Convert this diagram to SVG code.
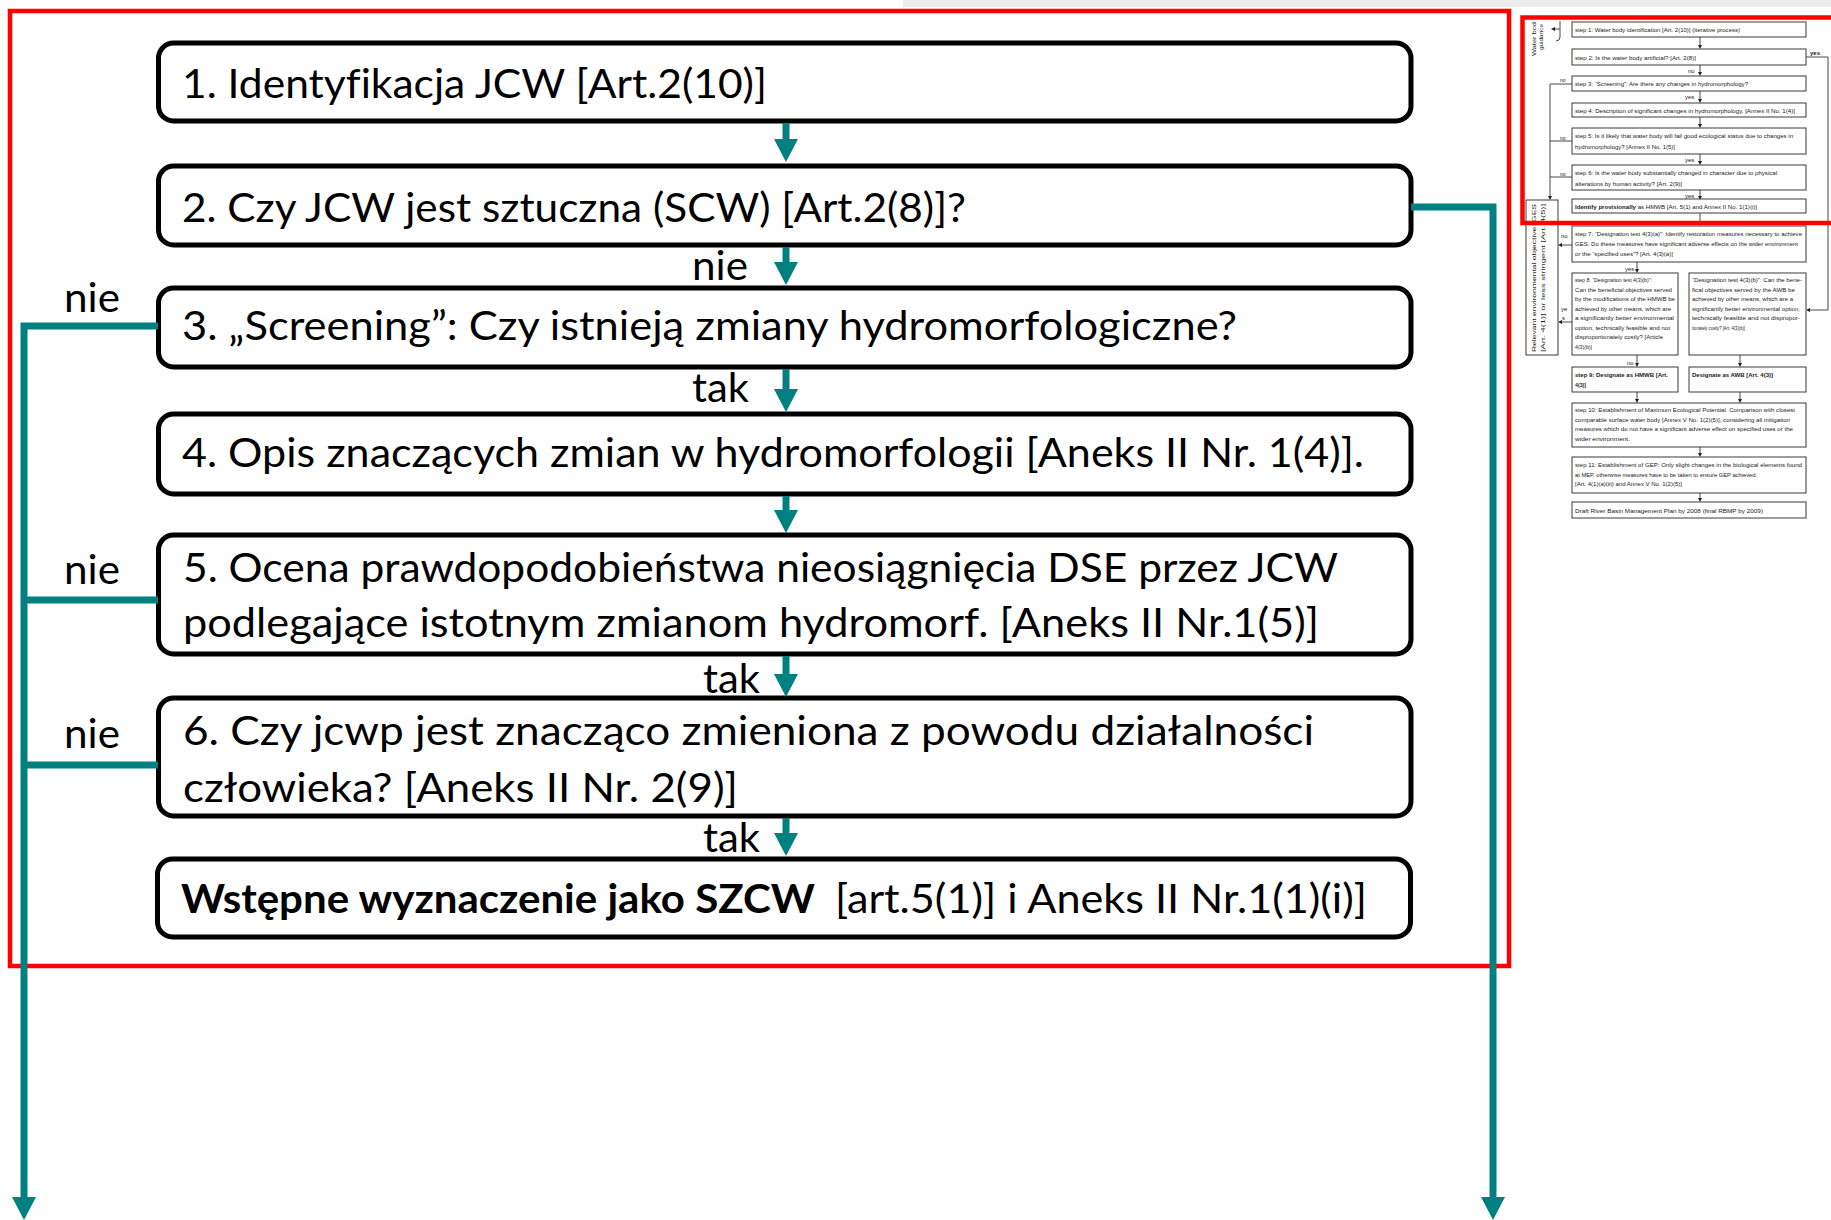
<svg xmlns="http://www.w3.org/2000/svg" width="1831" height="1220" viewBox="0 0 1831 1220">
<style>
.box{fill:#fff;stroke:#000;stroke-width:5}
.t{font-family:Lato,"Open Sans","Liberation Sans",sans-serif;font-size:40px;fill:#000;font-variant-ligatures:none}
.b{font-weight:bold}
.con{fill:none;stroke:#008080;stroke-width:7}
.red{fill:none;stroke:#ff0000;stroke-width:4.5}
.tb{fill:#fff;stroke:#3a3a3a;stroke-width:1}
.tt{font-family:"Liberation Sans",Arial,sans-serif;font-size:6px;fill:#222}
.tl{fill:none;stroke:#333;stroke-width:0.9}
</style>
<defs>
<marker id="ah" markerUnits="userSpaceOnUse" markerWidth="23" markerHeight="24" refX="0" refY="12" orient="auto" viewBox="0 0 23 24">
<path d="M0,0 L23,12 L0,24 z" fill="#008080"/>
</marker>
<marker id="sm" markerUnits="userSpaceOnUse" markerWidth="4" markerHeight="4" refX="0" refY="2" orient="auto" viewBox="0 0 4 4">
<path d="M0,0 L4,2 L0,4 z" fill="#222"/>
</marker>
</defs>
<rect x="0" y="0" width="1831" height="1220" fill="#fff"/>
<rect x="903" y="0" width="928" height="7" fill="#ececec"/>
<rect class="red" x="10" y="11" width="1499" height="955"/>

<g id="thumbnail">
<g class="tt">
<text x="1536" y="56" transform="rotate(-90 1536 56)" textLength="34" lengthAdjust="spacingAndGlyphs">Water bod</text>
<text x="1543" y="50" transform="rotate(-90 1543 50)" textLength="26" lengthAdjust="spacingAndGlyphs">guidance</text>
</g>
<path class="tl" d="M1560,21 V37 Q1560,41 1556,41"/>
<line class="tl" x1="1560" y1="29" x2="1555" y2="29" marker-end="url(#sm)"/>

<rect class="tb" x="1572" y="22" width="234" height="15"/>
<text class="tt" x="1575" y="32" textLength="165" lengthAdjust="spacingAndGlyphs">step 1: Water body identification [Art. 2(10)] (iterative process)</text>
<line class="tl" x1="1700" y1="37" x2="1700" y2="45" marker-end="url(#sm)"/>

<rect class="tb" x="1572" y="49" width="234" height="16"/>
<text class="tt" x="1575" y="60" textLength="121" lengthAdjust="spacingAndGlyphs">step 2: Is the water body artificial? [Art. 2(8)]</text>
<text class="tt" x="1688" y="73" font-size="5">no</text>
<line class="tl" x1="1700" y1="65" x2="1700" y2="72" marker-end="url(#sm)"/>
<text class="tt" x="1810" y="55" font-weight="bold" font-size="5.5">yes</text>
<path class="tl" d="M1806,57 H1828 V310 H1810" marker-end="url(#sm)"/>

<rect class="tb" x="1572" y="76" width="234" height="15"/>
<text class="tt" x="1575" y="86" textLength="173" lengthAdjust="spacingAndGlyphs">step 3: “Screening”: Are there any changes in hydromorphology?</text>
<text class="tt" x="1685" y="99" font-size="5">yes</text>
<line class="tl" x1="1700" y1="91" x2="1700" y2="99" marker-end="url(#sm)"/>

<rect class="tb" x="1572" y="103" width="234" height="14"/>
<text class="tt" x="1575" y="113" textLength="220" lengthAdjust="spacingAndGlyphs">step 4: Description of significant changes in hydromorphology. [Annex II No. 1(4)]</text>
<line class="tl" x1="1700" y1="117" x2="1700" y2="124" marker-end="url(#sm)"/>

<rect class="tb" x="1572" y="128" width="234" height="26"/>
<text class="tt" x="1575" y="138" textLength="218" lengthAdjust="spacingAndGlyphs">step 5: Is it likely that water body will fail good ecological status due to changes in</text>
<text class="tt" x="1575" y="149" textLength="100" lengthAdjust="spacingAndGlyphs">hydromorphology? [Annex II No. 1(5)]</text>
<text class="tt" x="1685" y="162" font-size="5">yes</text>
<line class="tl" x1="1700" y1="154" x2="1700" y2="161" marker-end="url(#sm)"/>

<rect class="tb" x="1572" y="165" width="234" height="25"/>
<text class="tt" x="1575" y="175" textLength="202" lengthAdjust="spacingAndGlyphs">step 6: Is the water body substantially changed in character due to physical</text>
<text class="tt" x="1575" y="186" textLength="107" lengthAdjust="spacingAndGlyphs">alterations by human activity? [Art. 2(9)]</text>
<text class="tt" x="1685" y="198" font-size="5">yes</text>
<line class="tl" x1="1700" y1="190" x2="1700" y2="196" marker-end="url(#sm)"/>

<rect class="tb" x="1572" y="199" width="234" height="14"/>
<text class="tt" x="1575" y="209" textLength="182" lengthAdjust="spacingAndGlyphs"><tspan font-weight="bold">Identify provisionally</tspan> as HMWB [Art. 5(1) and Annex II No. 1(1)(i)]</text>
<line class="tl" x1="1700" y1="213" x2="1700" y2="222" marker-end="url(#sm)"/>

<g class="tt">
<text x="1560" y="82" font-size="5">no</text>
<text x="1560" y="140" font-size="5">no</text>
<text x="1560" y="176" font-size="5">no</text>
</g>
<path class="tl" d="M1572,84 H1550 V196" marker-end="url(#sm)"/>
<path class="tl" d="M1572,141 H1550"/>
<path class="tl" d="M1572,177 H1550"/>

<rect class="tb" x="1526" y="200" width="32" height="155"/>
<g class="tt">
<text x="1536" y="352" transform="rotate(-90 1536 352)" textLength="148" lengthAdjust="spacingAndGlyphs">Relevant environmental objective: GES</text>
<text x="1545" y="352" transform="rotate(-90 1545 352)" textLength="148" lengthAdjust="spacingAndGlyphs">[Art. 4(1)] or less stringent [Art. 4(5)]</text>
</g>

<rect class="tb" x="1572" y="226" width="234" height="36"/>
<text class="tt" x="1575" y="236" textLength="227" lengthAdjust="spacingAndGlyphs">step 7: “Designation test 4(3)(a)”: Identify restoration measures necessary to achieve</text>
<text class="tt" x="1575" y="246" textLength="223" lengthAdjust="spacingAndGlyphs">GES. Do these measures have significant adverse effects on the wider environment</text>
<text class="tt" x="1575" y="256" textLength="98" lengthAdjust="spacingAndGlyphs">or the “specified uses”? [Art. 4(3)(a)]</text>
<text class="tt" x="1561" y="238" font-size="5">no</text>
<line class="tl" x1="1572" y1="245" x2="1562" y2="245" marker-end="url(#sm)"/>
<text class="tt" x="1625" y="271" font-size="5">yes</text>
<line class="tl" x1="1637" y1="262" x2="1637" y2="269" marker-end="url(#sm)"/>

<rect class="tb" x="1572" y="273" width="106" height="82"/>
<g class="tt">
<text x="1575" y="282" textLength="77" lengthAdjust="spacingAndGlyphs">step 8: “Designation test 4(3)(b)”:</text>
<text x="1575" y="291.5" textLength="97" lengthAdjust="spacingAndGlyphs">Can the beneficial objectives served</text>
<text x="1575" y="301" textLength="100" lengthAdjust="spacingAndGlyphs">by the modifications of the HMWB be</text>
<text x="1575" y="310.5" textLength="96" lengthAdjust="spacingAndGlyphs">achieved by other means, which are</text>
<text x="1575" y="320" textLength="99" lengthAdjust="spacingAndGlyphs">a significantly better environmental</text>
<text x="1575" y="329.5" textLength="95" lengthAdjust="spacingAndGlyphs">option, technically feasible and not</text>
<text x="1575" y="339" textLength="88" lengthAdjust="spacingAndGlyphs">disproportionately costly? [Article</text>
<text x="1575" y="348.5" textLength="17" lengthAdjust="spacingAndGlyphs">4(3)(b)]</text>
</g>
<text class="tt" x="1561" y="311" font-size="5">ye</text>
<text class="tt" x="1562" y="320" font-size="5">s</text>
<line class="tl" x1="1572" y1="322" x2="1562" y2="322" marker-end="url(#sm)"/>

<rect class="tb" x="1689" y="273" width="117" height="82"/>
<g class="tt">
<text x="1692" y="282" textLength="110" lengthAdjust="spacingAndGlyphs">“Designation test 4(3)(b)”: Can the bene-</text>
<text x="1692" y="291.5" textLength="103" lengthAdjust="spacingAndGlyphs">fical objectives served by the AWB be</text>
<text x="1692" y="301" textLength="101" lengthAdjust="spacingAndGlyphs">achieved by other means, which are a</text>
<text x="1692" y="310.5" textLength="108" lengthAdjust="spacingAndGlyphs">significantly better environmental option,</text>
<text x="1692" y="320" textLength="108" lengthAdjust="spacingAndGlyphs">technically feasible and not dispropor-</text>
<text x="1692" y="329.5" textLength="53" lengthAdjust="spacingAndGlyphs">tionately costly? [Art. 4(3)(b)]</text>
</g>

<text class="tt" x="1627" y="365" font-size="5">no</text>
<line class="tl" x1="1637" y1="355" x2="1637" y2="363" marker-end="url(#sm)"/>
<line class="tl" x1="1740" y1="355" x2="1740" y2="363" marker-end="url(#sm)"/>

<rect class="tb" x="1572" y="367" width="106" height="25"/>
<text class="tt" x="1575" y="377" font-weight="bold" textLength="93" lengthAdjust="spacingAndGlyphs">step 9: Designate as HMWB [Art.</text>
<text class="tt" x="1575" y="387" font-weight="bold" textLength="11" lengthAdjust="spacingAndGlyphs">4(3)]</text>
<rect class="tb" x="1689" y="367" width="117" height="25"/>
<text class="tt" x="1692" y="377" font-weight="bold" textLength="81" lengthAdjust="spacingAndGlyphs">Designate as AWB [Art. 4(3)]</text>
<line class="tl" x1="1637" y1="392" x2="1637" y2="399" marker-end="url(#sm)"/>
<line class="tl" x1="1740" y1="392" x2="1740" y2="399" marker-end="url(#sm)"/>

<rect class="tb" x="1572" y="403" width="234" height="44"/>
<g class="tt">
<text x="1575" y="412" textLength="220" lengthAdjust="spacingAndGlyphs">step 10: Establishment of Maximum Ecological Potential. Comparison with closest</text>
<text x="1575" y="421.5" textLength="215" lengthAdjust="spacingAndGlyphs">comparable surface water body [Annex V No. 1(2)(5)], considering all mitigation</text>
<text x="1575" y="431" textLength="218" lengthAdjust="spacingAndGlyphs">measures which do not have a significant adverse effect on specified uses or the</text>
<text x="1575" y="440.5" textLength="55" lengthAdjust="spacingAndGlyphs">wider environment.</text>
</g>
<line class="tl" x1="1700" y1="447" x2="1700" y2="453" marker-end="url(#sm)"/>

<rect class="tb" x="1572" y="457" width="234" height="36"/>
<g class="tt">
<text x="1575" y="467" textLength="227" lengthAdjust="spacingAndGlyphs">step 11: Establishment of GEP: Only slight changes in the biological elements found</text>
<text x="1575" y="476.5" textLength="182" lengthAdjust="spacingAndGlyphs">at MEP, otherwise measures have to be taken to ensure GEP achieved.</text>
<text x="1575" y="486" textLength="107" lengthAdjust="spacingAndGlyphs">[Art. 4(1)(a)(iii) and Annex V No. 1(2)(5)]</text>
</g>
<line class="tl" x1="1700" y1="493" x2="1700" y2="498" marker-end="url(#sm)"/>

<rect class="tb" x="1572" y="502" width="234" height="16"/>
<text class="tt" x="1575" y="513" textLength="188" lengthAdjust="spacingAndGlyphs">Draft River Basin Management Plan by 2008 (final RBMP by 2009)</text>

<rect class="red" x="1522.5" y="17.5" width="330" height="205.5" stroke-width="5"/>
</g>

<g id="node1">
<rect class="box" x="158.5" y="43" width="1252.5" height="78" rx="15"/>
<text class="t" x="182" y="98" textLength="585" lengthAdjust="spacingAndGlyphs">1. Identyfikacja JCW [Art.2(10)]</text>
</g>
<g id="node2">
<rect class="box" x="158.5" y="166" width="1252.5" height="79" rx="15"/>
<text class="t" x="182" y="222" textLength="784" lengthAdjust="spacingAndGlyphs">2. Czy JCW jest sztuczna (SCW) [Art.2(8)]?</text>
</g>
<g id="node3">
<rect class="box" x="158.5" y="288" width="1252.5" height="79" rx="15"/>
<text class="t" x="182" y="340" textLength="1055" lengthAdjust="spacingAndGlyphs">3. „Screening”: Czy istnieją zmiany hydromorfologiczne?</text>
</g>
<g id="node4">
<rect class="box" x="158.5" y="414" width="1252.5" height="80" rx="15"/>
<text class="t" x="182" y="467" textLength="1182" lengthAdjust="spacingAndGlyphs">4. Opis znaczących zmian w hydromorfologii [Aneks II Nr. 1(4)].</text>
</g>
<g id="node5">
<rect class="box" x="158.5" y="535" width="1252.5" height="119" rx="15"/>
<text class="t" x="183" y="582" textLength="1155" lengthAdjust="spacingAndGlyphs">5. Ocena prawdopodobieństwa nieosiągnięcia DSE przez JCW</text>
<text class="t" x="183" y="637" textLength="1136" lengthAdjust="spacingAndGlyphs">podlegające istotnym zmianom hydromorf. [Aneks II Nr.1(5)]</text>
</g>
<g id="node6">
<rect class="box" x="158.5" y="698" width="1252.5" height="118" rx="15"/>
<text class="t" x="183" y="745" textLength="1131" lengthAdjust="spacingAndGlyphs">6. Czy jcwp jest znacząco zmieniona z powodu działalności</text>
<text class="t" x="183" y="802" textLength="555" lengthAdjust="spacingAndGlyphs">człowieka? [Aneks II Nr. 2(9)]</text>
</g>
<g id="node7">
<rect class="box" x="157.5" y="859" width="1253" height="78" rx="15"/>
<text class="t b" x="181" y="913" textLength="634" lengthAdjust="spacingAndGlyphs">Wstępne wyznaczenie jako SZCW</text>
<text class="t" x="835" y="913" textLength="532" lengthAdjust="spacingAndGlyphs">[art.5(1)] i Aneks II Nr.1(1)(i)]</text>
</g>

<g id="connectors">
<line class="con" x1="786" y1="123" x2="786" y2="139" marker-end="url(#ah)"/>
<line class="con" x1="786" y1="247" x2="786" y2="262" marker-end="url(#ah)"/>
<line class="con" x1="786" y1="369" x2="786" y2="389" marker-end="url(#ah)"/>
<line class="con" x1="786" y1="496" x2="786" y2="510" marker-end="url(#ah)"/>
<line class="con" x1="786" y1="656" x2="786" y2="674" marker-end="url(#ah)"/>
<line class="con" x1="786" y1="818" x2="786" y2="833" marker-end="url(#ah)"/>
<path class="con" d="M158,326 H24 V1197" marker-end="url(#ah)"/>
<path class="con" d="M158,600 H24"/>
<path class="con" d="M158,765 H24"/>
<path class="con" d="M1411,207 H1493 V1197" marker-end="url(#ah)"/>
<text class="t" x="692" y="280" textLength="56" lengthAdjust="spacingAndGlyphs">nie</text>
<text class="t" x="692" y="402" textLength="57" lengthAdjust="spacingAndGlyphs">tak</text>
<text class="t" x="703" y="693" textLength="57" lengthAdjust="spacingAndGlyphs">tak</text>
<text class="t" x="703" y="852" textLength="57" lengthAdjust="spacingAndGlyphs">tak</text>
<text class="t" x="64" y="312" textLength="56" lengthAdjust="spacingAndGlyphs">nie</text>
<text class="t" x="64" y="584" textLength="56" lengthAdjust="spacingAndGlyphs">nie</text>
<text class="t" x="64" y="748" textLength="56" lengthAdjust="spacingAndGlyphs">nie</text>
</g>
</svg>
